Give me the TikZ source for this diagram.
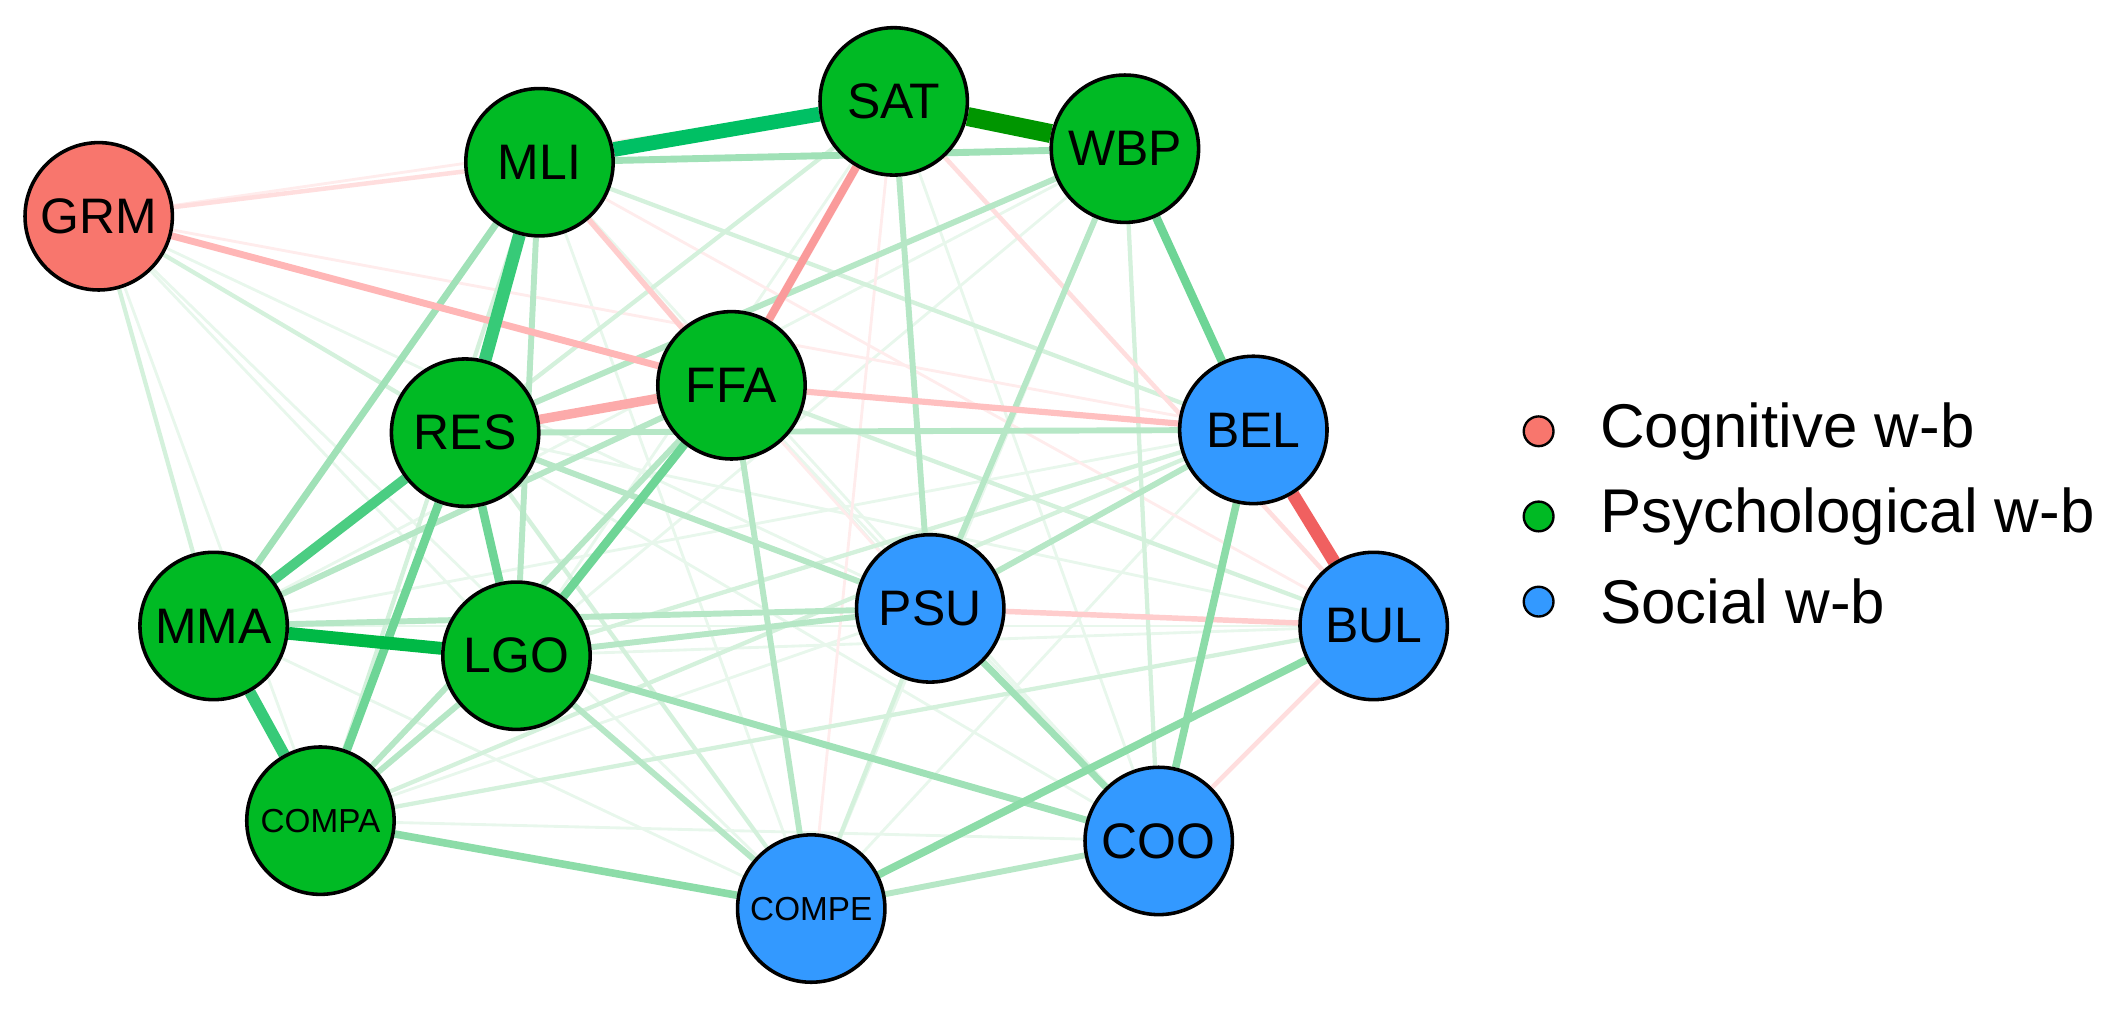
\documentclass[tikz,border=0pt]{standalone}
\usepackage{fontspec}
\setmainfont{Liberation Sans}
\usetikzlibrary{backgrounds,positioning}

\definecolor{cogn}{RGB}{248,118,109}
\definecolor{psyc}{RGB}{0,186,36}
\definecolor{soci}{RGB}{51,153,255}
% edge colours, weak to strong
\definecolor{gA}{RGB}{232,247,236}
\definecolor{gB}{RGB}{212,241,220}
\definecolor{gC}{RGB}{182,231,198}
\definecolor{gD}{RGB}{160,225,183}
\definecolor{gE}{RGB}{140,220,168}
\definecolor{gF}{RGB}{110,213,150}
\definecolor{gG}{RGB}{75,205,130}
\definecolor{gH}{RGB}{55,202,120}
\definecolor{gI}{RGB}{0,185,70}
\definecolor{gJ}{RGB}{0,192,100}
\definecolor{gK}{RGB}{0,150,0}
\definecolor{rA}{RGB}{255,236,236}
\definecolor{rB}{RGB}{255,222,222}
\definecolor{rC}{RGB}{255,205,205}
\definecolor{rD}{RGB}{255,192,192}
\definecolor{rE}{RGB}{255,182,182}
\definecolor{rF}{RGB}{250,155,155}
\definecolor{rG}{RGB}{252,170,170}
\definecolor{rH}{RGB}{240,96,96}

\begin{document}
\begin{tikzpicture}[x=0.1mm,y=-0.1mm,
    wb/.style={circle,draw=black,line width=0.75pt,minimum size=10.9mm,inner sep=0pt,
      font=\fontsize{10.5}{12}\selectfont},
    cog/.style={wb,fill=cogn},
    psy/.style={wb,fill=psyc},
    soc/.style={wb,fill=soci},
    tiny/.style={font=\fontsize{7}{8}\selectfont},
    key/.style={circle,draw=black,line width=0.5pt,minimum size=2.2mm,inner sep=0pt},
    keytext/.style={inner sep=0pt,anchor=west,font=\fontsize{13}{15}\selectfont},
    pos0/.style={draw=gA,line width=0.6pt},
    pos1/.style={draw=gB,line width=0.9pt},
    pos2/.style={draw=gC,line width=1.25pt},
    pos3/.style={draw=gD,line width=1.45pt},
    pos4/.style={draw=gE,line width=1.6pt},
    pos5/.style={draw=gF,line width=1.8pt},
    pos6/.style={draw=gG,line width=2.1pt},
    pos7/.style={draw=gH,line width=2.4pt},
    pos8/.style={draw=gH,line width=2.7pt},
    pos9/.style={draw=gI,line width=2.7pt},
    pos10/.style={draw=gJ,line width=3.1pt},
    pos11/.style={draw=gK,line width=4pt},
    neg0/.style={draw=rA,line width=0.6pt},
    neg1/.style={draw=rB,line width=0.95pt},
    neg2/.style={draw=rC,line width=1.15pt},
    neg3/.style={draw=rD,line width=1.3pt},
    neg4/.style={draw=rE,line width=1.45pt},
    neg5/.style={draw=rF,line width=1.7pt},
    neg6/.style={draw=rG,line width=2pt},
    neg7/.style={draw=rH,line width=2.7pt}]
  \useasboundingbox (0,0) rectangle (1568,751);

  % nodes
  \node[cog] (GRM) at (73,160) {GRM};
  \node[psy] (MLI) at (399,120) {MLI};
  \node[psy] (SAT) at (661,75) {SAT};
  \node[psy] (WBP) at (832,110) {WBP};
  \node[psy] (FFA) at (541,285) {FFA};
  \node[psy] (RES) at (344,320) {RES};
  \node[psy] (MMA) at (158,463) {MMA};
  \node[psy] (LGO) at (382,485) {LGO};
  \node[psy,tiny] (COMPA) at (237,607) {COMPA};
  \node[soc] (BEL) at (927,318) {BEL};
  \node[soc] (PSU) at (688,450) {PSU};
  \node[soc] (BUL) at (1016,463) {BUL};
  \node[soc,tiny] (COMPE) at (600,672) {COMPE};
  \node[soc] (COO) at (857,622) {COO};

  % edges, weakest first
  \begin{scope}[on background layer]
    \path[pos0] (GRM) edge (LGO) edge (COMPA) edge (PSU) edge (COMPE)
      (MLI) edge (PSU) edge (COO) edge (COMPE)
      (SAT) edge (LGO) edge (MMA) edge (COO)
      (WBP) edge (LGO) edge (MMA) edge (COMPE)
      (FFA) edge (COO) (RES) edge (COO) edge (BUL)
      (MMA) edge (BEL) edge (COMPE) edge (BUL)
      (COMPA) edge (PSU) edge (COO)
      (LGO) edge (BUL) (COMPE) edge (BEL);
    \path[neg0] (SAT) edge (COMPE) (MLI) edge (BUL) (GRM) edge (SAT)
      (FFA) edge (PSU) (GRM) edge (BEL);
    \path[pos1] (GRM) edge (RES) edge (MMA)
      (MLI) edge (BEL) edge (COMPA)
      (SAT) edge (RES) (WBP) edge (COO)
      (COMPA) edge (BEL) edge (BUL)
      (RES) edge (COMPE) (LGO) edge (BEL)
      (COMPE) edge (PSU) (FFA) edge (BUL);
    \path[neg1] (GRM) edge (MLI) (COO) edge (BUL) (SAT) edge (BUL);
    \path[pos2] (MLI) edge (LGO) (SAT) edge (PSU)
      (WBP) edge (RES) edge (PSU)
      (RES) edge (BEL) edge (PSU)
      (MMA) edge (PSU) edge (FFA)
      (LGO) edge (PSU) edge (COMPA) edge (COMPE)
      (PSU) edge (BEL)
      (FFA) edge (COMPE) edge (COMPA)
      (COMPE) edge (COO);
    \path[neg2] (MLI) edge (FFA) (PSU) edge (BUL);
    \path[pos3] (MLI) edge (WBP) edge (MMA)
      (LGO) edge (COO) (PSU) edge (COO);
    \path[neg3] (FFA) edge (BEL);
    \path[neg4] (GRM) edge (FFA);
    \path[pos4] (COMPA) edge (COMPE) (COMPE) edge (BUL) (BEL) edge (COO);
    \path[pos5] (WBP) edge (BEL) (RES) edge (LGO) edge (COMPA)
      (FFA) edge (LGO);
    \path[neg5] (SAT) edge (FFA);
    \path[neg6] (RES) edge (FFA);
    \path[pos6] (MMA) edge (RES);
    \path[pos7] (MMA) edge (COMPA);
    \path[neg7] (BEL) edge (BUL);
    \path[pos8] (MLI) edge (RES);
    \path[pos9] (MMA) edge (LGO);
    \path[pos10] (MLI) edge (SAT);
    \path[pos11] (SAT) edge (WBP);
  \end{scope}

  % legend
  \node[key,fill=cogn] (keyC) at (1138,319) {};
  \node[key,fill=psyc] (keyP) at (1138,382) {};
  \node[key,fill=soci] (keyS) at (1138,445) {};
  \node[keytext,right=3.3mm of keyC] (labC) {Cognitive w-b};
  \node[keytext,right=3.3mm of keyP] (labP) {Psychological w-b};
  \node[keytext,right=3.3mm of keyS] (labS) {Social w-b};
\end{tikzpicture}
\end{document}
